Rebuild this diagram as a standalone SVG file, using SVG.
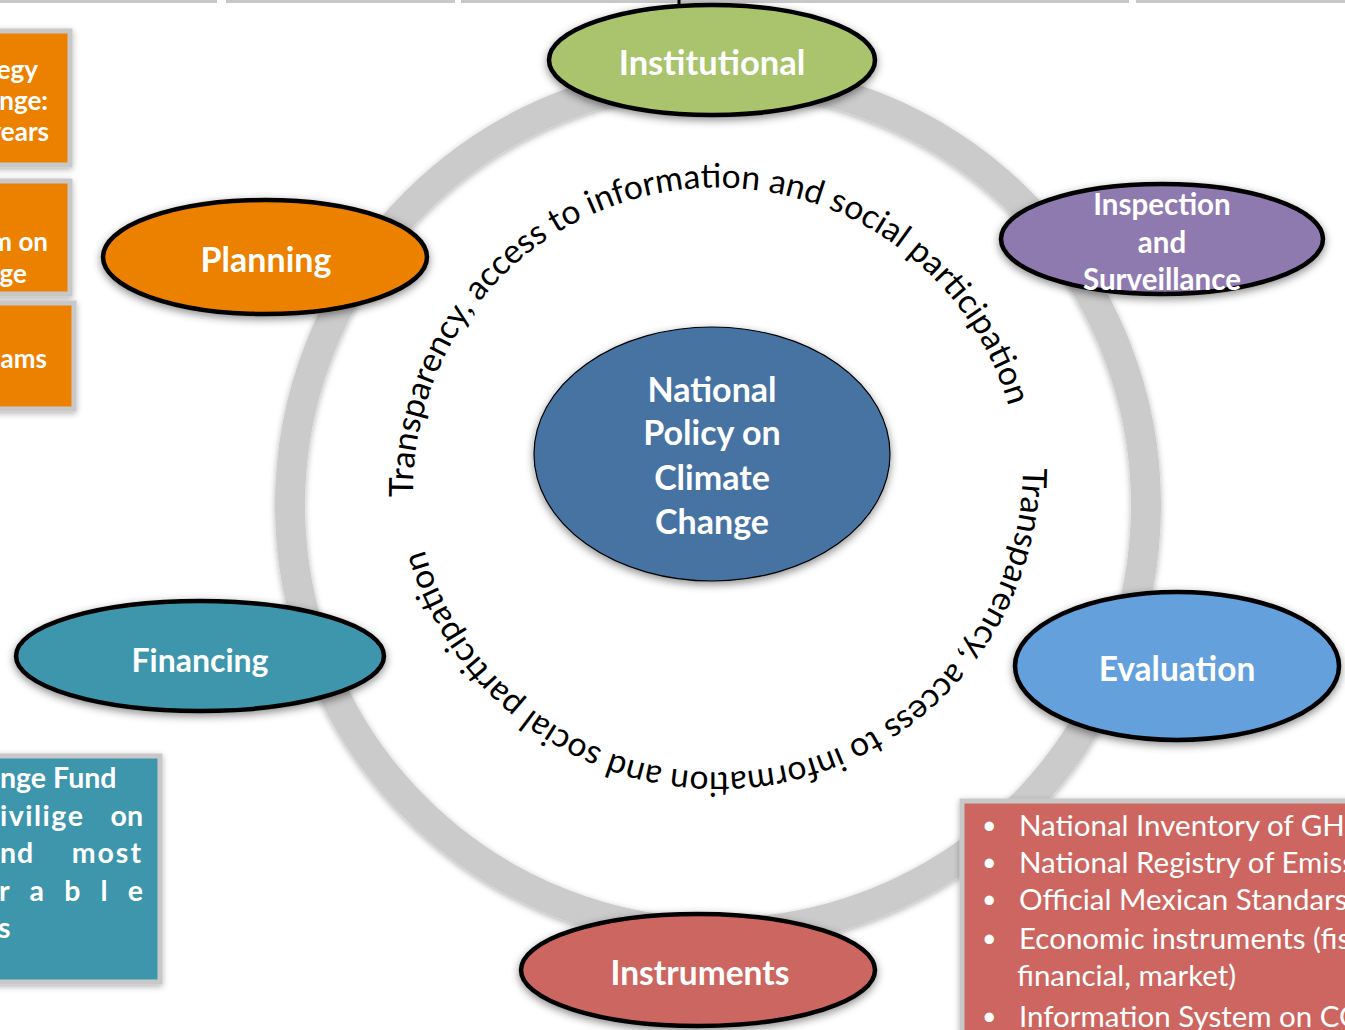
<svg xmlns="http://www.w3.org/2000/svg" width="1345" height="1030" viewBox="0 0 1345 1030">
<style>
.lbl{font-family:Lato,"Liberation Sans",sans-serif;font-weight:bold;fill:#fff;text-anchor:middle}
.arc{font-family:Lato,"Liberation Sans",sans-serif;font-size:33.6px;fill:#000}
.node{stroke:#000;stroke-width:4.5}
.box{stroke:#c8c8c8;stroke-width:5}
.btxt{font-family:Lato,"Liberation Sans",sans-serif;font-weight:bold;fill:#fff;font-size:26px}
.ttxt{font-family:Lato,"Liberation Sans",sans-serif;font-weight:bold;fill:#fff;font-size:28.5px}
.rtxt{font-family:Lato,"Liberation Sans",sans-serif;fill:#fff;font-size:29.5px}
.bul{font-family:Lato,"Liberation Sans",sans-serif;fill:#fff;font-size:25px}
</style>
<defs>
<filter id="sh" x="-20%" y="-30%" width="140%" height="160%"><feDropShadow dx="0" dy="3" stdDeviation="4" flood-color="#000" flood-opacity="0.45"/></filter>
<filter id="rsh" x="-10%" y="-10%" width="120%" height="120%"><feDropShadow dx="0" dy="2" stdDeviation="3" flood-color="#000" flood-opacity="0.3"/></filter>
<path id="arcTop" d="M 413 497 A 304 304 0 1 1 980 644"/>
<path id="arcBot" d="M 1023 468 A 305 305 0 1 1 431 364"/>
</defs>
<rect width="1345" height="1030" fill="#fff"/>
<!-- top strips -->
<g fill="#c8c8c8">
<rect x="0" y="0" width="217" height="3"/>
<rect x="226" y="0" width="229" height="3"/>
<rect x="461" y="0" width="668" height="3"/>
<rect x="1136" y="0" width="209" height="3"/>
</g>
<!-- ring -->
<circle cx="718" cy="505" r="428" fill="none" stroke="#cbcbcb" stroke-width="30" filter="url(#rsh)"/>
<!-- connectors -->
<g id="connectors">
<line x1="679" y1="0" x2="679" y2="6" stroke="#000" stroke-width="3"/>
</g>
<!-- curved texts -->
<text class="arc"><textPath href="#arcTop">Transparency, access to information and social participation</textPath></text>
<text class="arc"><textPath href="#arcBot">Transparency, access to information and social participation</textPath></text>

<g id="n-center">
<ellipse cx="712" cy="454" rx="178" ry="127" fill="#4673a3" stroke="#000" stroke-width="1.2" filter="url(#sh)"/>
<text class="lbl" font-size="34"><tspan x="712" y="402">National</tspan><tspan x="712" y="445">Policy on</tspan><tspan x="712" y="490">Climate</tspan><tspan x="712" y="534">Change</tspan></text>
</g>
<g id="n-institutional">
<ellipse class="node" cx="712" cy="60" rx="163" ry="55" fill="#a9c46c" filter="url(#sh)"/>
<text class="lbl" x="712" y="75" font-size="34.5">Institutional</text>
</g>
<g id="n-inspection">
<ellipse class="node" cx="1162" cy="239" rx="161" ry="55" fill="#8f7ab0" filter="url(#sh)"/>
<text class="lbl" font-size="29.5"><tspan x="1162" y="215">Inspection</tspan><tspan x="1162" y="253">and</tspan><tspan x="1162" y="290">Surveillance</tspan></text>
</g>
<g id="n-planning">
<ellipse class="node" cx="265" cy="257" rx="162" ry="57" fill="#ec8106" filter="url(#sh)"/>
<text class="lbl" x="266" y="272" font-size="34">Planning</text>
</g>
<g id="n-financing">
<ellipse class="node" cx="200" cy="656" rx="184" ry="55" fill="#3c96ac" filter="url(#sh)"/>
<text class="lbl" x="200" y="672" font-size="32">Financing</text>
</g>
<g id="n-evaluation">
<ellipse class="node" cx="1177" cy="666" rx="162" ry="74" fill="#63a0dc" filter="url(#sh)"/>
<text class="lbl" x="1177" y="681" font-size="33.5">Evaluation</text>
</g>
<g id="n-instruments">
<ellipse class="node" cx="698" cy="970" rx="177" ry="56" fill="#cc6661" filter="url(#sh)"/>
<text class="lbl" x="700" y="985" font-size="33.5">Instruments</text>
</g>

<g id="b-strategy">
<rect class="box" x="-10" y="31" width="80" height="134" fill="#ec8106" filter="url(#rsh)"/>
<text class="btxt" text-anchor="end"><tspan x="38" y="79">egy</tspan><tspan x="48" y="110">nge:</tspan><tspan x="49" y="141">years</tspan></text>
</g>
<g id="b-program">
<rect class="box" x="-10" y="181" width="80" height="113" fill="#ec8106" filter="url(#rsh)"/>
<text class="btxt" text-anchor="end"><tspan x="48" y="251">m on</tspan><tspan x="27" y="283">ge</tspan></text>
</g>
<g id="b-programs">
<rect class="box" x="-10" y="303" width="84" height="106" fill="#ec8106" filter="url(#rsh)"/>
<text class="btxt" text-anchor="end" x="47" y="368">ams</text>
</g>
<g id="b-fund">
<rect class="box" x="-10" y="756" width="170" height="226" fill="#3c96ac" filter="url(#rsh)"/>
<text class="ttxt" x="0" y="788">nge Fund</text>
<text class="ttxt" x="0" y="826" letter-spacing="1.5">ivilige</text>
<text class="ttxt" x="143" y="826" text-anchor="end">on</text>
<text class="ttxt" x="0" y="863" letter-spacing="1">nd</text>
<text class="ttxt" x="143" y="863" text-anchor="end" letter-spacing="2">most</text>
<text class="ttxt" x="-1" y="901" textLength="144" lengthAdjust="spacing">rable</text>
<text class="ttxt" x="-2" y="938">s</text>
</g>
<g id="b-instruments">
<rect class="box" x="962" y="801" width="400" height="240" fill="#cd6661" filter="url(#rsh)"/>
<g>
<text class="bul" x="982" y="834">•</text><text class="rtxt" x="1019" y="836">National Inventory of GH</text>
<text class="bul" x="982" y="871">•</text><text class="rtxt" x="1019" y="873">National Registry of Emiss</text>
<text class="bul" x="982" y="908">•</text><text class="rtxt" x="1019" y="910">Official Mexican Standars</text>
<text class="bul" x="982" y="947">•</text><text class="rtxt" x="1019" y="949">Economic instruments (fis</text>
<text class="rtxt" x="1017" y="986">financial, market)</text>
<text class="bul" x="982" y="1025">•</text><text class="rtxt" x="1019" y="1027">Information System on CC</text>
</g>
</g>
</svg>
